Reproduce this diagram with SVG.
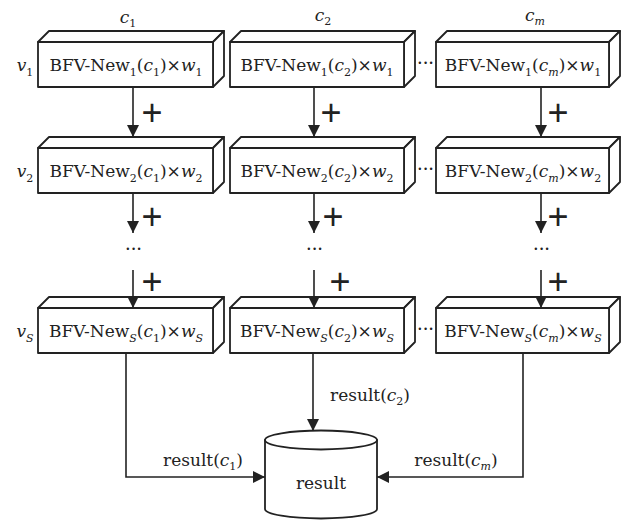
<svg xmlns="http://www.w3.org/2000/svg" width="625" height="520" viewBox="0 0 625 520">
  <style>
    .bg { fill: #ffffff; }
    .face { fill: #ffffff; stroke: #222; stroke-width: 1.8; stroke-linejoin: round; }
    .line { fill: none; stroke: #222; stroke-width: 1.6; }
    .t { font-family: "DejaVu Serif", "Liberation Serif", serif; font-size: 17px; fill: #222; }
    .i { font-style: italic; }
    .sb { font-size: 11px; }
    .plus { font-family: "Liberation Sans", Arial, sans-serif; font-size: 36px; fill: #222; text-anchor: middle; }
    .dots { font-family: "Liberation Serif", serif; font-size: 20px; fill: #222; text-anchor: middle; letter-spacing: -1px; }
  </style>
  <defs>
    <marker id="ah" viewBox="0 0 12 12" refX="12" refY="6" markerWidth="12" markerHeight="12" markerUnits="userSpaceOnUse" orient="auto">
      <path d="M0,0 L12,6 L0,12 Z" fill="#222"/>
    </marker>
  </defs>
  <rect class="bg" x="0" y="0" width="625" height="520"/>

  <!-- column headers -->
  <text class="t i" x="128" y="23" text-anchor="middle">c<tspan class="sb" dy="4" font-style="normal">1</tspan></text>
  <text class="t i" x="323" y="21" text-anchor="middle">c<tspan class="sb" dy="4" font-style="normal">2</tspan></text>
  <text class="t i" x="535" y="21" text-anchor="middle">c<tspan class="sb" dy="4">m</tspan></text>

  <!-- row labels -->
  <text class="t i" x="25" y="71" text-anchor="middle">v<tspan class="sb" dy="5" font-style="normal">1</tspan></text>
  <text class="t i" x="25" y="177" text-anchor="middle">v<tspan class="sb" dy="5" font-style="normal">2</tspan></text>
  <text class="t i" x="25" y="337" text-anchor="middle">v<tspan class="sb" dy="5">S</tspan></text>

  <!-- row 1 -->
  <g id="n-1-c1">
    <path class="face" d="M38,42 L49,31 L224,31 L213,42 Z"/>
    <path class="face" d="M213,42 L224,31 L224,76 L213,87 Z"/>
    <rect class="face" x="38" y="42" width="175" height="45"/>
    <text class="t" x="126" y="71" text-anchor="middle">BFV-New<tspan class="sb" dy="5">1</tspan><tspan dy="-5">(</tspan><tspan class="i">c</tspan><tspan class="sb" dy="5">1</tspan><tspan dy="-5">)×</tspan><tspan class="i">w</tspan><tspan class="sb" dy="5">1</tspan></text>
  </g>
  <g id="n-1-c2">
    <path class="face" d="M230,42 L241,31 L415,31 L404,42 Z"/>
    <path class="face" d="M404,42 L415,31 L415,76 L404,87 Z"/>
    <rect class="face" x="230" y="42" width="174" height="45"/>
    <text class="t" x="317" y="71" text-anchor="middle">BFV-New<tspan class="sb" dy="5">1</tspan><tspan dy="-5">(</tspan><tspan class="i">c</tspan><tspan class="sb" dy="5">2</tspan><tspan dy="-5">)×</tspan><tspan class="i">w</tspan><tspan class="sb" dy="5">1</tspan></text>
  </g>
  <g id="n-1-cm">
    <path class="face" d="M436,42 L447,31 L620,31 L609,42 Z"/>
    <path class="face" d="M609,42 L620,31 L620,76 L609,87 Z"/>
    <rect class="face" x="436" y="42" width="173" height="45"/>
    <text class="t" x="523" y="71" text-anchor="middle">BFV-New<tspan class="sb" dy="5">1</tspan><tspan dy="-5">(</tspan><tspan class="i">c</tspan><tspan class="sb i" dy="5">m</tspan><tspan dy="-5">)×</tspan><tspan class="i">w</tspan><tspan class="sb" dy="5">1</tspan></text>
  </g>

  <!-- row 2 -->
  <g id="n-2-c1">
    <path class="face" d="M38,148 L49,137 L224,137 L213,148 Z"/>
    <path class="face" d="M213,148 L224,137 L224,182 L213,193 Z"/>
    <rect class="face" x="38" y="148" width="175" height="45"/>
    <text class="t" x="126" y="177" text-anchor="middle">BFV-New<tspan class="sb" dy="5">2</tspan><tspan dy="-5">(</tspan><tspan class="i">c</tspan><tspan class="sb" dy="5">1</tspan><tspan dy="-5">)×</tspan><tspan class="i">w</tspan><tspan class="sb" dy="5">2</tspan></text>
  </g>
  <g id="n-2-c2">
    <path class="face" d="M230,148 L241,137 L415,137 L404,148 Z"/>
    <path class="face" d="M404,148 L415,137 L415,182 L404,193 Z"/>
    <rect class="face" x="230" y="148" width="174" height="45"/>
    <text class="t" x="317" y="177" text-anchor="middle">BFV-New<tspan class="sb" dy="5">2</tspan><tspan dy="-5">(</tspan><tspan class="i">c</tspan><tspan class="sb" dy="5">2</tspan><tspan dy="-5">)×</tspan><tspan class="i">w</tspan><tspan class="sb" dy="5">2</tspan></text>
  </g>
  <g id="n-2-cm">
    <path class="face" d="M436,148 L447,137 L620,137 L609,148 Z"/>
    <path class="face" d="M609,148 L620,137 L620,182 L609,193 Z"/>
    <rect class="face" x="436" y="148" width="173" height="45"/>
    <text class="t" x="523" y="177" text-anchor="middle">BFV-New<tspan class="sb" dy="5">2</tspan><tspan dy="-5">(</tspan><tspan class="i">c</tspan><tspan class="sb i" dy="5">m</tspan><tspan dy="-5">)×</tspan><tspan class="i">w</tspan><tspan class="sb" dy="5">2</tspan></text>
  </g>

  <!-- row S -->
  <g id="n-s-c1">
    <path class="face" d="M38,308 L49,297 L224,297 L213,308 Z"/>
    <path class="face" d="M213,308 L224,297 L224,342 L213,353 Z"/>
    <rect class="face" x="38" y="308" width="175" height="45"/>
    <text class="t" x="126" y="337" text-anchor="middle">BFV-New<tspan class="sb i" dy="5">S</tspan><tspan dy="-5">(</tspan><tspan class="i">c</tspan><tspan class="sb" dy="5">1</tspan><tspan dy="-5">)×</tspan><tspan class="i">w</tspan><tspan class="sb i" dy="5">S</tspan></text>
  </g>
  <g id="n-s-c2">
    <path class="face" d="M230,308 L241,297 L415,297 L404,308 Z"/>
    <path class="face" d="M404,308 L415,297 L415,342 L404,353 Z"/>
    <rect class="face" x="230" y="308" width="174" height="45"/>
    <text class="t" x="317" y="337" text-anchor="middle">BFV-New<tspan class="sb i" dy="5">S</tspan><tspan dy="-5">(</tspan><tspan class="i">c</tspan><tspan class="sb" dy="5">2</tspan><tspan dy="-5">)×</tspan><tspan class="i">w</tspan><tspan class="sb i" dy="5">S</tspan></text>
  </g>
  <g id="n-s-cm">
    <path class="face" d="M436,308 L447,297 L620,297 L609,308 Z"/>
    <path class="face" d="M609,308 L620,297 L620,342 L609,353 Z"/>
    <rect class="face" x="436" y="308" width="173" height="45"/>
    <text class="t" x="523" y="337" text-anchor="middle">BFV-New<tspan class="sb i" dy="5">S</tspan><tspan dy="-5">(</tspan><tspan class="i">c</tspan><tspan class="sb i" dy="5">m</tspan><tspan dy="-5">)×</tspan><tspan class="i">w</tspan><tspan class="sb i" dy="5">S</tspan></text>
  </g>

  <!-- result store -->
  <g id="result">
    <path class="face" d="M265,440 L265,509 A56,9.5 0 0 0 377,509 L377,440 Z"/>
    <ellipse class="face" cx="321" cy="440" rx="56" ry="9.5"/>
    <text class="t" x="321" y="489" text-anchor="middle">result</text>
  </g>

  <!-- connectors, drawn over the box bevels -->
  <g id="connectors">
    <!-- column c1 accumulation -->
    <line class="line" x1="133" y1="87" x2="133" y2="137" marker-end="url(#ah)"/>
    <line class="line" x1="133" y1="193" x2="133" y2="233" marker-end="url(#ah)"/>
    <line class="line" x1="133" y1="270" x2="133" y2="308" marker-end="url(#ah)"/>
    <!-- column c2 accumulation -->
    <line class="line" x1="314" y1="87" x2="314" y2="137" marker-end="url(#ah)"/>
    <line class="line" x1="314" y1="193" x2="314" y2="233" marker-end="url(#ah)"/>
    <line class="line" x1="314" y1="270" x2="314" y2="308" marker-end="url(#ah)"/>
    <!-- column cm accumulation -->
    <line class="line" x1="541" y1="87" x2="541" y2="137" marker-end="url(#ah)"/>
    <line class="line" x1="541" y1="193" x2="541" y2="233" marker-end="url(#ah)"/>
    <line class="line" x1="541" y1="270" x2="541" y2="308" marker-end="url(#ah)"/>
    <!-- results into store -->
    <polyline class="line" points="126,353 126,477 265,477" marker-end="url(#ah)"/>
    <line class="line" x1="313" y1="353" x2="313" y2="431" marker-end="url(#ah)"/>
    <polyline class="line" points="523,353 523,477 377,477" marker-end="url(#ah)"/>
  </g>

  <!-- plus signs -->
  <text class="plus" x="152" y="125">+</text>
  <text class="plus" x="152" y="229">+</text>
  <text class="plus" x="152" y="294">+</text>
  <text class="plus" x="331" y="125">+</text>
  <text class="plus" x="333" y="229">+</text>
  <text class="plus" x="340" y="294">+</text>
  <text class="plus" x="558" y="125">+</text>
  <text class="plus" x="558" y="229">+</text>
  <text class="plus" x="558" y="294">+</text>

  <!-- vertical ellipses -->
  <text class="dots" x="133" y="256">···</text>
  <text class="dots" x="314" y="256">···</text>
  <text class="dots" x="541" y="256">···</text>
  <!-- horizontal ellipses -->
  <text class="dots" x="425" y="70">···</text>
  <text class="dots" x="425" y="176">···</text>
  <text class="dots" x="425" y="336">···</text>

  <!-- connector labels -->
  <text class="t" x="203" y="466" text-anchor="middle">result(<tspan class="i">c</tspan><tspan class="sb" dy="4">1</tspan><tspan dy="-4">)</tspan></text>
  <text class="t" x="370" y="401" text-anchor="middle">result(<tspan class="i">c</tspan><tspan class="sb" dy="4">2</tspan><tspan dy="-4">)</tspan></text>
  <text class="t" x="456" y="466" text-anchor="middle">result(<tspan class="i">c</tspan><tspan class="sb i" dy="4">m</tspan><tspan dy="-4">)</tspan></text>
</svg>
